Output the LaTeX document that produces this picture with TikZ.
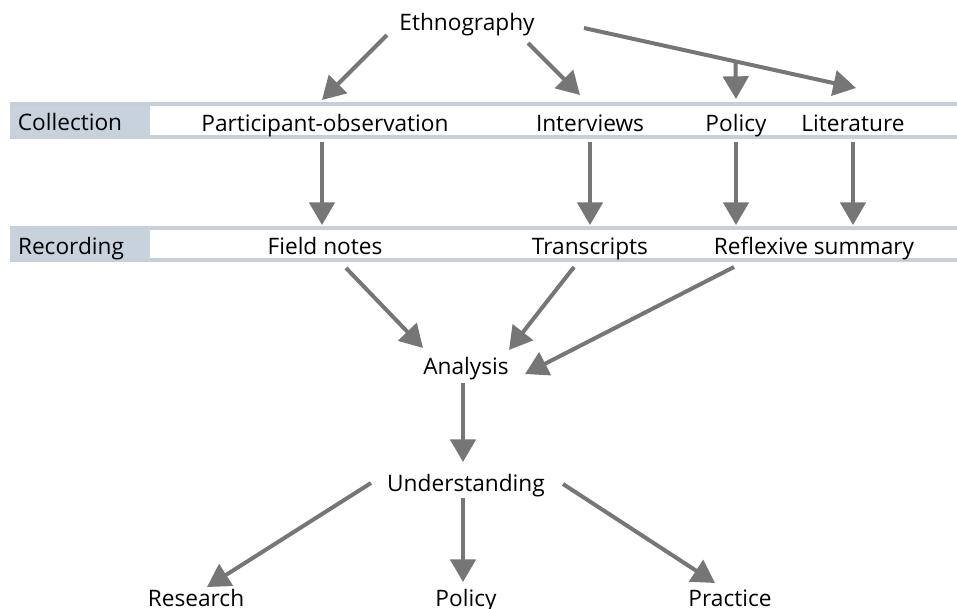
\documentclass[tikz,border=0pt]{standalone}
\usepackage{fontspec}
\setmainfont{Open Sans}
\usetikzlibrary{arrows.meta}
\usetikzlibrary{calc}
\definecolor{arrowgrey}{RGB}{118,118,118}
\definecolor{bandgrey}{RGB}{200,210,220}
\definecolor{bandline}{RGB}{197,208,219}

\begin{document}
\begin{tikzpicture}[x=0.75pt, y=-0.75pt, font=\fontsize{17}{20}\selectfont,
    every node/.style={text height=15pt, text depth=1.5pt, inner sep=0pt},
    flow/.style={draw=arrowgrey, line width=3pt, -{Triangle[length=17pt,width=19pt]}}]
      \useasboundingbox (0,0) rectangle (957,608);
      % the two bands
      \fill[bandgrey] (10,103) rectangle (150,138);
      \fill[bandgrey] (10,227) rectangle (150,261);
      \draw[bandline, line width=2.5pt] (10,104) -- (957,104) (10,137) -- (957,137);
      \draw[bandline, line width=2.5pt] (10,228) -- (957,228) (10,260) -- (957,260);
      \node (collection) at (70,121) {Collection};
      \node (recording) at (71,245) {Recording};

      \node (eth) at (467,21) {Ethnography};
      \node (partobs) at (325,122) {Participant-observation};
      \node (interv) at (590,122) {Interviews};
      \node (polin) at (736,122) {Policy};
      \node (lit) at (853,122) {Literature};
      \node (fieldn) at (325,245) {Field notes};
      \node (transc) at (590,245) {Transcripts};
      \node (reflex) at (814,245) {Reflexive summary};
      \node (analysis) at (466,365) {Analysis};
      \node (underst) at (466,482) {Understanding};
      \node (research) at (196,597) {Research};
      \node (polout) at (466,597) {Policy};
      \node (practice) at (730,597) {Practice};

      % collection
      \draw[flow] ($(eth)+(-80,14)$) -- ($(partobs)+(-3,-22)$);
      \draw[flow] ($(eth)+(61,22)$) -- ($(interv)+(-10,-27)$);
      \draw[flow] ($(eth)+(117,7)$) -- coordinate[pos=0.557] (split) ($(lit)+(3,-34)$);
      \draw[flow] (split) -- ($(polin)+(0,-23)$);
      % recording
      \draw[flow] ($(partobs)+(-3,20)$) -- ($(fieldn)+(-3,-20)$);
      \draw[flow] ($(interv)+(0,20)$) -- ($(transc)+(0,-20)$);
      \draw[flow] ($(polin)+(0,20)$) -- ($(reflex)+(-78,-20)$);
      \draw[flow] ($(lit)+(0,20)$) -- ($(reflex)+(39,-20)$);
      % analysis
      \draw[flow] ($(fieldn)+(21,23)$) -- ($(analysis)+(-43,-17)$);
      \draw[flow] ($(transc)+(-16,22)$) -- ($(analysis)+(43,-15)$);
      \draw[flow] ($(reflex)+(-80,22)$) -- ($(analysis)+(59,9)$);
      \draw[flow] ($(analysis)+(-3,18)$) -- ($(underst)+(-3,-20)$);
      % outcomes
      \draw[flow] ($(underst)+(-95,1)$) -- ($(research)+(11,-10)$);
      \draw[flow] ($(underst)+(-3,16)$) -- ($(polout)+(-3,-15)$);
      \draw[flow] ($(underst)+(97,2)$) -- ($(practice)+(-15,-14)$);

\end{tikzpicture}
\end{document}
